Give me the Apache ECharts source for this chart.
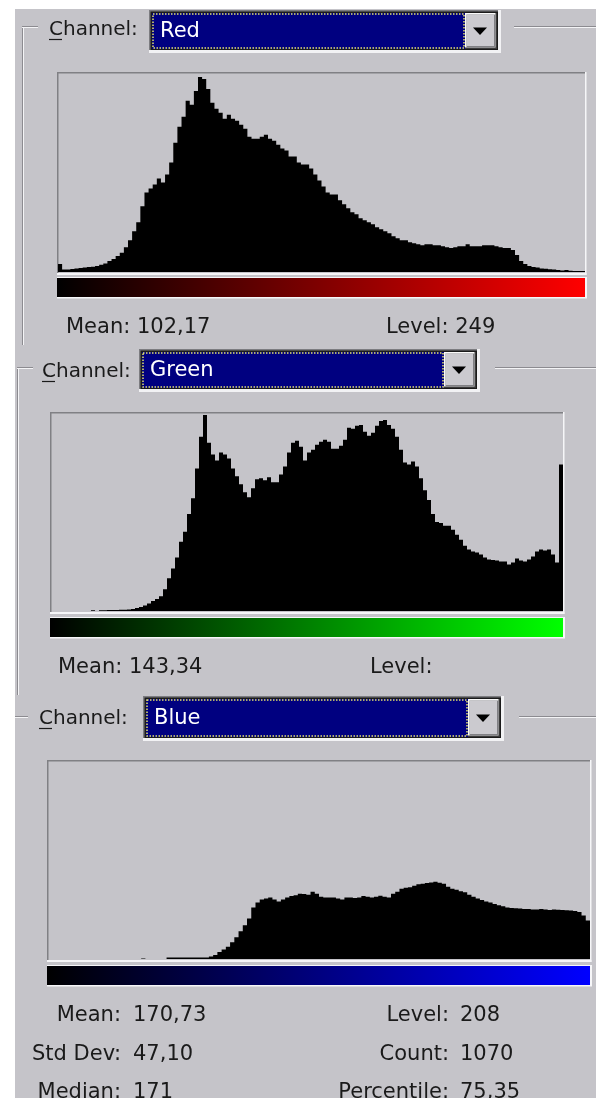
<!DOCTYPE html>
<html>
<head>
<meta charset="utf-8">
<script src="https://cdn.jsdelivr.net/npm/echarts@6/dist/echarts.min.js"></script>
<style>
html,body{margin:0;padding:0;background:#fff;}
#main{width:596px;height:1098px;}
</style>
</head>
<body>
<div id="main"></div>
<script>
// histogram bins (2 levels per bin), heights in % of the tallest bin
var levels = [];
for (var k = 0; k < 128; k++) levels.push(String(k * 2));

var redCounts = [
	4,1.2,1.2,1.5,1.7,2,2.2,2.5,2.7,3,3.6,4.3,5.5,6.5,8,9.7,
	12.5,16,20.5,25,33,40,42,44,47,45,49,55,65,73,78,86,
	84,91,98,97,92,85,82,80,77,79,77,76,74,72,68,67,
	67,68,69,67,66,64,62,61,58,58,55,54,54,52,49,46,
	43,40,39,39,36,34,32,30,29,27,26,25,24,22.5,21.5,20.5,
	19.5,18,17,16,16,15,14.5,14,13.5,14,14,13.5,13.5,13,12.5,12,
	12.5,13,13,14,13,13,13,13.5,13.5,13.5,13,12.5,12,12,11,8.5,
	5.5,4,3,2.5,2.2,1.8,1.6,1.4,1.2,1,0.8,1,0.6,0.5,0.5,0.5
];
var greenCounts = [
	0,0,0,0,0,0,0,0,0,0,0.4,0,0.4,0.4,0.5,0.5,
	0.5,0.6,0.6,0.8,1,1.5,2,2.8,3.8,5,6,7.5,11,16.5,21.5,27,
	35,40,49,57,72,88,99,85,79,76,80,79,77,72,68,64,
	60,57.5,62,66.5,67,66,67.5,65,65,69,73,80,85,86,83,76,
	80,81.5,84,85.5,86.5,85.5,82,82,83.5,86.5,92.5,92,93.5,94,90.5,88.5,
	90,93.5,96,96.5,94,92,88,81.5,75,74,75.5,73,67,61,56,49,
	45,44.5,43,43,41,38.5,36,33,31,30,29.5,28.5,27,26,25.7,25.5,
	25,25,23.5,24.5,26.5,25.5,25,26,27.5,30,31,30.5,31,28.5,24.5,74
];
var blueCounts = [
	0,0,0,0,0,0,0,0,0,0,0,0,0,0,0,0,
	0,0,0,0,0,0,0.3,0,0,0,0,0,0.7,0.7,0.7,0.7,
	0.7,0.7,0.7,0.7,0.7,0.8,1.3,2,3.5,4.8,6.2,8.5,11,14,17,20.5,
	26,28.5,30,30.5,31,30,29,30,31,31.8,32.2,33,32.8,32.5,34,33,
	31.5,31,31,31,30.5,30,31,31,30.8,31,31.8,31.5,31,31.5,32,31.5,
	31,33,34,35.5,36,36.2,37,37.8,38,38.4,38.6,39,38.5,38,36.5,35.5,
	35,34.2,33.7,32.5,31.5,30.5,29.8,29,28.5,27.8,27.2,26.7,26,25.8,25.6,25.5,
	25.3,25.2,25,25,25.2,25,24.8,25,24.9,24.7,24.6,24.5,24.2,23.8,22,19.5
];

var BG = '#c5c4c9';
var FONT = '"DejaVu Sans", sans-serif';

//一些小工具,画对话框的零件
function rect(x, y, w, h, fill){
	return {type:'rect', shape:{x:x, y:y, width:w, height:h}, style:{fill:fill}, silent:true};
}
function line(x1, y1, x2, y2, color, lw){
	return {type:'line', shape:{x1:x1, y1:y1, x2:x2, y2:y2}, style:{stroke:color, lineWidth:lw || 1}, silent:true};
}
function txt(x, y, s, size, color, align){
	return {type:'text', x:x, y:y, silent:true, style:{
		text:s, font:size + 'px ' + FONT, fill:color || '#1a1a1a',
		textAlign:align || 'left', align:align || 'left',
		textVerticalAlign:'middle', verticalAlign:'middle'
	}};
}

// etched group-box line (gray + white)
function etchH(x1, x2, y){
	return [line(x1, y + 0.5, x2, y + 0.5, '#8c8b90'), line(x1, y + 1.5, x2, y + 1.5, '#f4f4f6')];
}
function etchV(x, y1, y2){
	return [line(x + 0.5, y1, x + 0.5, y2, '#8c8b90'), line(x + 1.5, y1, x + 1.5, y2, '#f4f4f6')];
}

function channelLabel(x, y){
	return [txt(x, y, 'Channel:', 20), line(x, y + 9.5, x + 13, y + 9.5, '#1a1a1a', 1.2)];
}

function dropdown(x, y, w, h, label){
	var els = [];
	els.push(rect(x, y, w, h, '#f2f2f4'));
	els.push(rect(x, y, w - 3, h - 3, '#7c7c80'));
	els.push(rect(x + 1.5, y + 1.5, w - 4.5, h - 4.5, '#1a1a1a'));
	var cx = x + 3, cy = y + 3, cw = w - 7, ch = h - 7;
	var bw = 32;
	var fw = cw - bw;
	els.push(rect(cx, cy, fw, ch, '#000080'));
	els.push({type:'rect', shape:{x:cx + 1, y:cy + 1, width:fw - 2, height:ch - 2},
		style:{fill:null, stroke:'#e6e46a', lineWidth:1.5, lineDash:[1.5, 1.5]}, silent:true});
	var bx = cx + fw;
	els.push(rect(bx, cy, bw, ch, '#3a3a3a'));
	els.push(rect(bx, cy, bw - 1.5, ch - 1.5, '#fafafa'));
	els.push(rect(bx + 1.5, cy + 1.5, bw - 3, ch - 3, '#808084'));
	els.push(rect(bx + 1.5, cy + 1.5, bw - 4.5, ch - 4.5, '#cbcacf'));
	var tx = bx + bw / 2 - 1, ty = cy + ch / 2;
	els.push({type:'polygon', shape:{points:[[tx - 7, ty - 3.5], [tx + 7, ty - 3.5], [tx, ty + 4]]}, style:{fill:'#000'}, silent:true});
	els.push(txt(cx + 8, cy + ch / 2 + 1, label, 21, '#ffffff'));
	return els;
}

function histFrame(x, y, w, h, gy, gh, endColor){
	var els = [];
	els.push(line(x, y + 0.75, x + w, y + 0.75, '#808084', 1.5));
	els.push(line(x + 0.75, y, x + 0.75, y + h, '#808084', 1.5));
	els.push(line(x + w + 0.75, y, x + w + 0.75, y + h + 2, '#f6f6f8', 1.5));
	els.push(line(x, y + h + 1, x + w + 1.5, y + h + 1, '#f6f6f8', 2));
	els.push(rect(x, gy - 1, w + 2, gh + 2.5, '#f6f6f8'));
	els.push({type:'rect', shape:{x:x, y:gy, width:w, height:gh}, silent:true,
		style:{fill:new echarts.graphic.LinearGradient(0, 0, 1, 0, [
			{offset:0, color:'#000000'}, {offset:1, color:endColor}])}});
	return els;
}

var graphics = [];
function add(list){ graphics = graphics.concat(list); }

// 背景: 左边和顶上是白的
add([rect(15, 9, 581, 1089, BG)]);

// Red
add(etchV(22, 26, 345));
add(etchH(22, 38, 26));
add(etchH(514, 596, 26));
add(channelLabel(49, 30));
add(dropdown(149, 10, 352, 43, 'Red'));
add(histFrame(57, 72, 528, 201, 278, 19, '#ff0000'));
add([txt(66, 328, 'Mean: 102,17', 21), txt(386, 328, 'Level: 249', 21)]);

// Green
add(etchV(17, 367, 695));
add(etchH(17, 33, 367));
add(etchH(495, 596, 367));
add(channelLabel(42, 372));
add(dropdown(139, 349, 341, 43, 'Green'));
add(histFrame(50, 412, 513, 200, 618, 19, '#00ff00'));
add([txt(58, 668, 'Mean: 143,34', 21), txt(370, 668, 'Level:', 21)]);

// Blue
add(etchH(15, 28, 716));
add(etchH(519, 596, 716));
add(channelLabel(39, 719));
add(dropdown(143, 696, 361, 45, 'Blue'));
add(histFrame(47, 760, 543, 200, 966, 19, '#0000ff'));
var statRows = [
	['Mean:', '170,73', 'Level:', '208'],
	['Std Dev:', '47,10', 'Count:', '1070'],
	['Median:', '171', 'Percentile:', '75,35']
];
statRows.forEach(function(r, i){
	var y = 1016 + i * 38.5;
	add([txt(121, y, r[0], 21, '#1a1a1a', 'right'), txt(133, y, r[1], 21),
		txt(449, y, r[2], 21, '#1a1a1a', 'right'), txt(460, y, r[3], 21)]);
});

var grids = [
	{left:58, top:73, width:527, height:199},
	{left:51, top:413, width:512, height:198},
	{left:48, top:761, width:542, height:198}
];
var counts = [redCounts, greenCounts, blueCounts];

var option = {
	backgroundColor:'#ffffff',
	animation:false,
	graphic:graphics,
	grid:grids,
	xAxis:grids.map(function(g, i){
		return {type:'category', gridIndex:i, data:levels, show:false, boundaryGap:true};
	}),
	yAxis:grids.map(function(g, i){
		return {type:'value', gridIndex:i, min:0, max:100, show:false};
	}),
	// large模式把所有柱子画成一条路径,相邻柱子之间就不会有缝
	series:counts.map(function(c, i){
		return {
			type:'bar', xAxisIndex:i, yAxisIndex:i, data:c,
			barCategoryGap:'0%', silent:true, z:5,
			large:true, largeThreshold:50,
			itemStyle:{color:'#000'}
		};
	})
};

var myChart = echarts.init(document.getElementById('main'));
myChart.setOption(option);
</script>
</body>
</html>
